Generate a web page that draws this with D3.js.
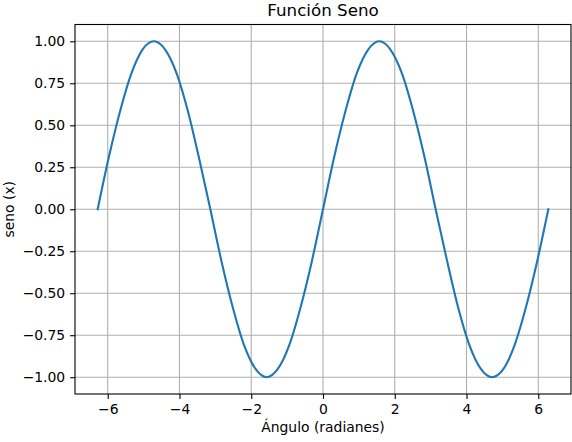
<!DOCTYPE html>
<html><head><meta charset="utf-8">
<script src="https://cdn.jsdelivr.net/npm/d3@7"></script>
<style>body{margin:0;background:#fff}svg{display:block;font-family:"DejaVu Sans",sans-serif}</style>
</head><body><svg id="c" width="572" height="442"></svg>
<script>
const title = "Función Seno";
const xLabel = "Ángulo (radianes)";
const yLabel = "seno (x)";
const xValues = [-6.28,-5.97,-5.65,-5.34,-5.03,-4.71,-4.40,-4.08,-3.77,-3.46,-3.14,-2.83,-2.51,-2.20,-1.88,-1.57,-1.26,-0.94,-0.63,-0.31,0,0.31,0.63,0.94,1.26,1.57,1.88,2.20,2.51,2.83,3.14,3.46,3.77,4.08,4.40,4.71,5.03,5.34,5.65,5.97,6.28];
const yValues = [0,0.309,0.588,0.809,0.951,1,0.951,0.809,0.588,0.309,0,-0.309,-0.588,-0.809,-0.951,-1,-0.951,-0.809,-0.588,-0.309,0,0.309,0.588,0.809,0.951,1,0.951,0.809,0.588,0.309,0,-0.309,-0.588,-0.809,-0.951,-1,-0.951,-0.809,-0.588,-0.309,0];
const xTicks = [-6,-4,-2,0,2,4,6];
const yTicks = [-1,-0.75,-0.5,-0.25,0,0.25,0.5,0.75,1];

const svg = d3.select("#c");
const L = 75, R = 571, T = 24.5, B = 394;
const x = d3.scaleLinear().domain([-6.912, 6.912]).range([L, R]);
const y = d3.scaleLinear().domain([-1.1, 1.1]).range([B, T]);

const g = svg.append("g");
// grid
g.selectAll(".gx").data(xTicks).join("line")
  .attr("x1", d => x(d)).attr("x2", d => x(d)).attr("y1", T).attr("y2", B)
  .attr("stroke", "#b0b0b0").attr("stroke-width", 1.1);
g.selectAll(".gy").data(yTicks).join("line")
  .attr("y1", d => y(d)).attr("y2", d => y(d)).attr("x1", L).attr("x2", R)
  .attr("stroke", "#b0b0b0").attr("stroke-width", 1.1);

// line
const pts = xValues.map((v, i) => [v, yValues[i]]);
g.append("path").datum(pts)
  .attr("d", d3.line().x(d => x(d[0])).y(d => y(d[1])).curve(d3.curveMonotoneX))
  .attr("fill", "none").attr("stroke", "#1f77b4").attr("stroke-width", 2.1)
  .attr("stroke-linecap", "square");

// axes
const xAxis = d3.axisBottom(x).tickValues(xTicks).tickSize(4.9).tickPadding(4.9)
  .tickFormat(d => d3.format("d")(d).replace("-", "\u2212"));
const yAxis = d3.axisLeft(y).tickValues(yTicks).tickSize(4.9).tickPadding(4.9)
  .tickFormat(d => d3.format(".2f")(d).replace("-", "\u2212"));
const gx = svg.append("g").attr("transform", `translate(0,${B})`).call(xAxis);
const gy = svg.append("g").attr("transform", `translate(${L},0)`).call(yAxis);
[gx, gy].forEach(a => {
  a.select(".domain").remove();
  a.selectAll("line").attr("stroke", "#000").attr("stroke-width", 1.1);
  a.selectAll("text").attr("font-size", 13.9).attr("fill", "#000").attr("font-family", "DejaVu Sans");
});
// frame
svg.append("rect").attr("x", L).attr("y", T).attr("width", R - L).attr("height", B - T)
  .attr("fill", "none").attr("stroke", "#000").attr("stroke-width", 1.1);

svg.append("text").attr("x", (L + R) / 2).attr("y", 15.5).attr("text-anchor", "middle")
  .attr("font-size", 16.7).text(title);
svg.append("text").attr("x", (L + R) / 2).attr("y", 432).attr("text-anchor", "middle")
  .attr("font-size", 13.9).text(xLabel);
svg.append("text").attr("transform", `translate(14,${(T + B) / 2}) rotate(-90)`).attr("text-anchor", "middle")
  .attr("font-size", 13.9).text(yLabel);
</script></body></html>
